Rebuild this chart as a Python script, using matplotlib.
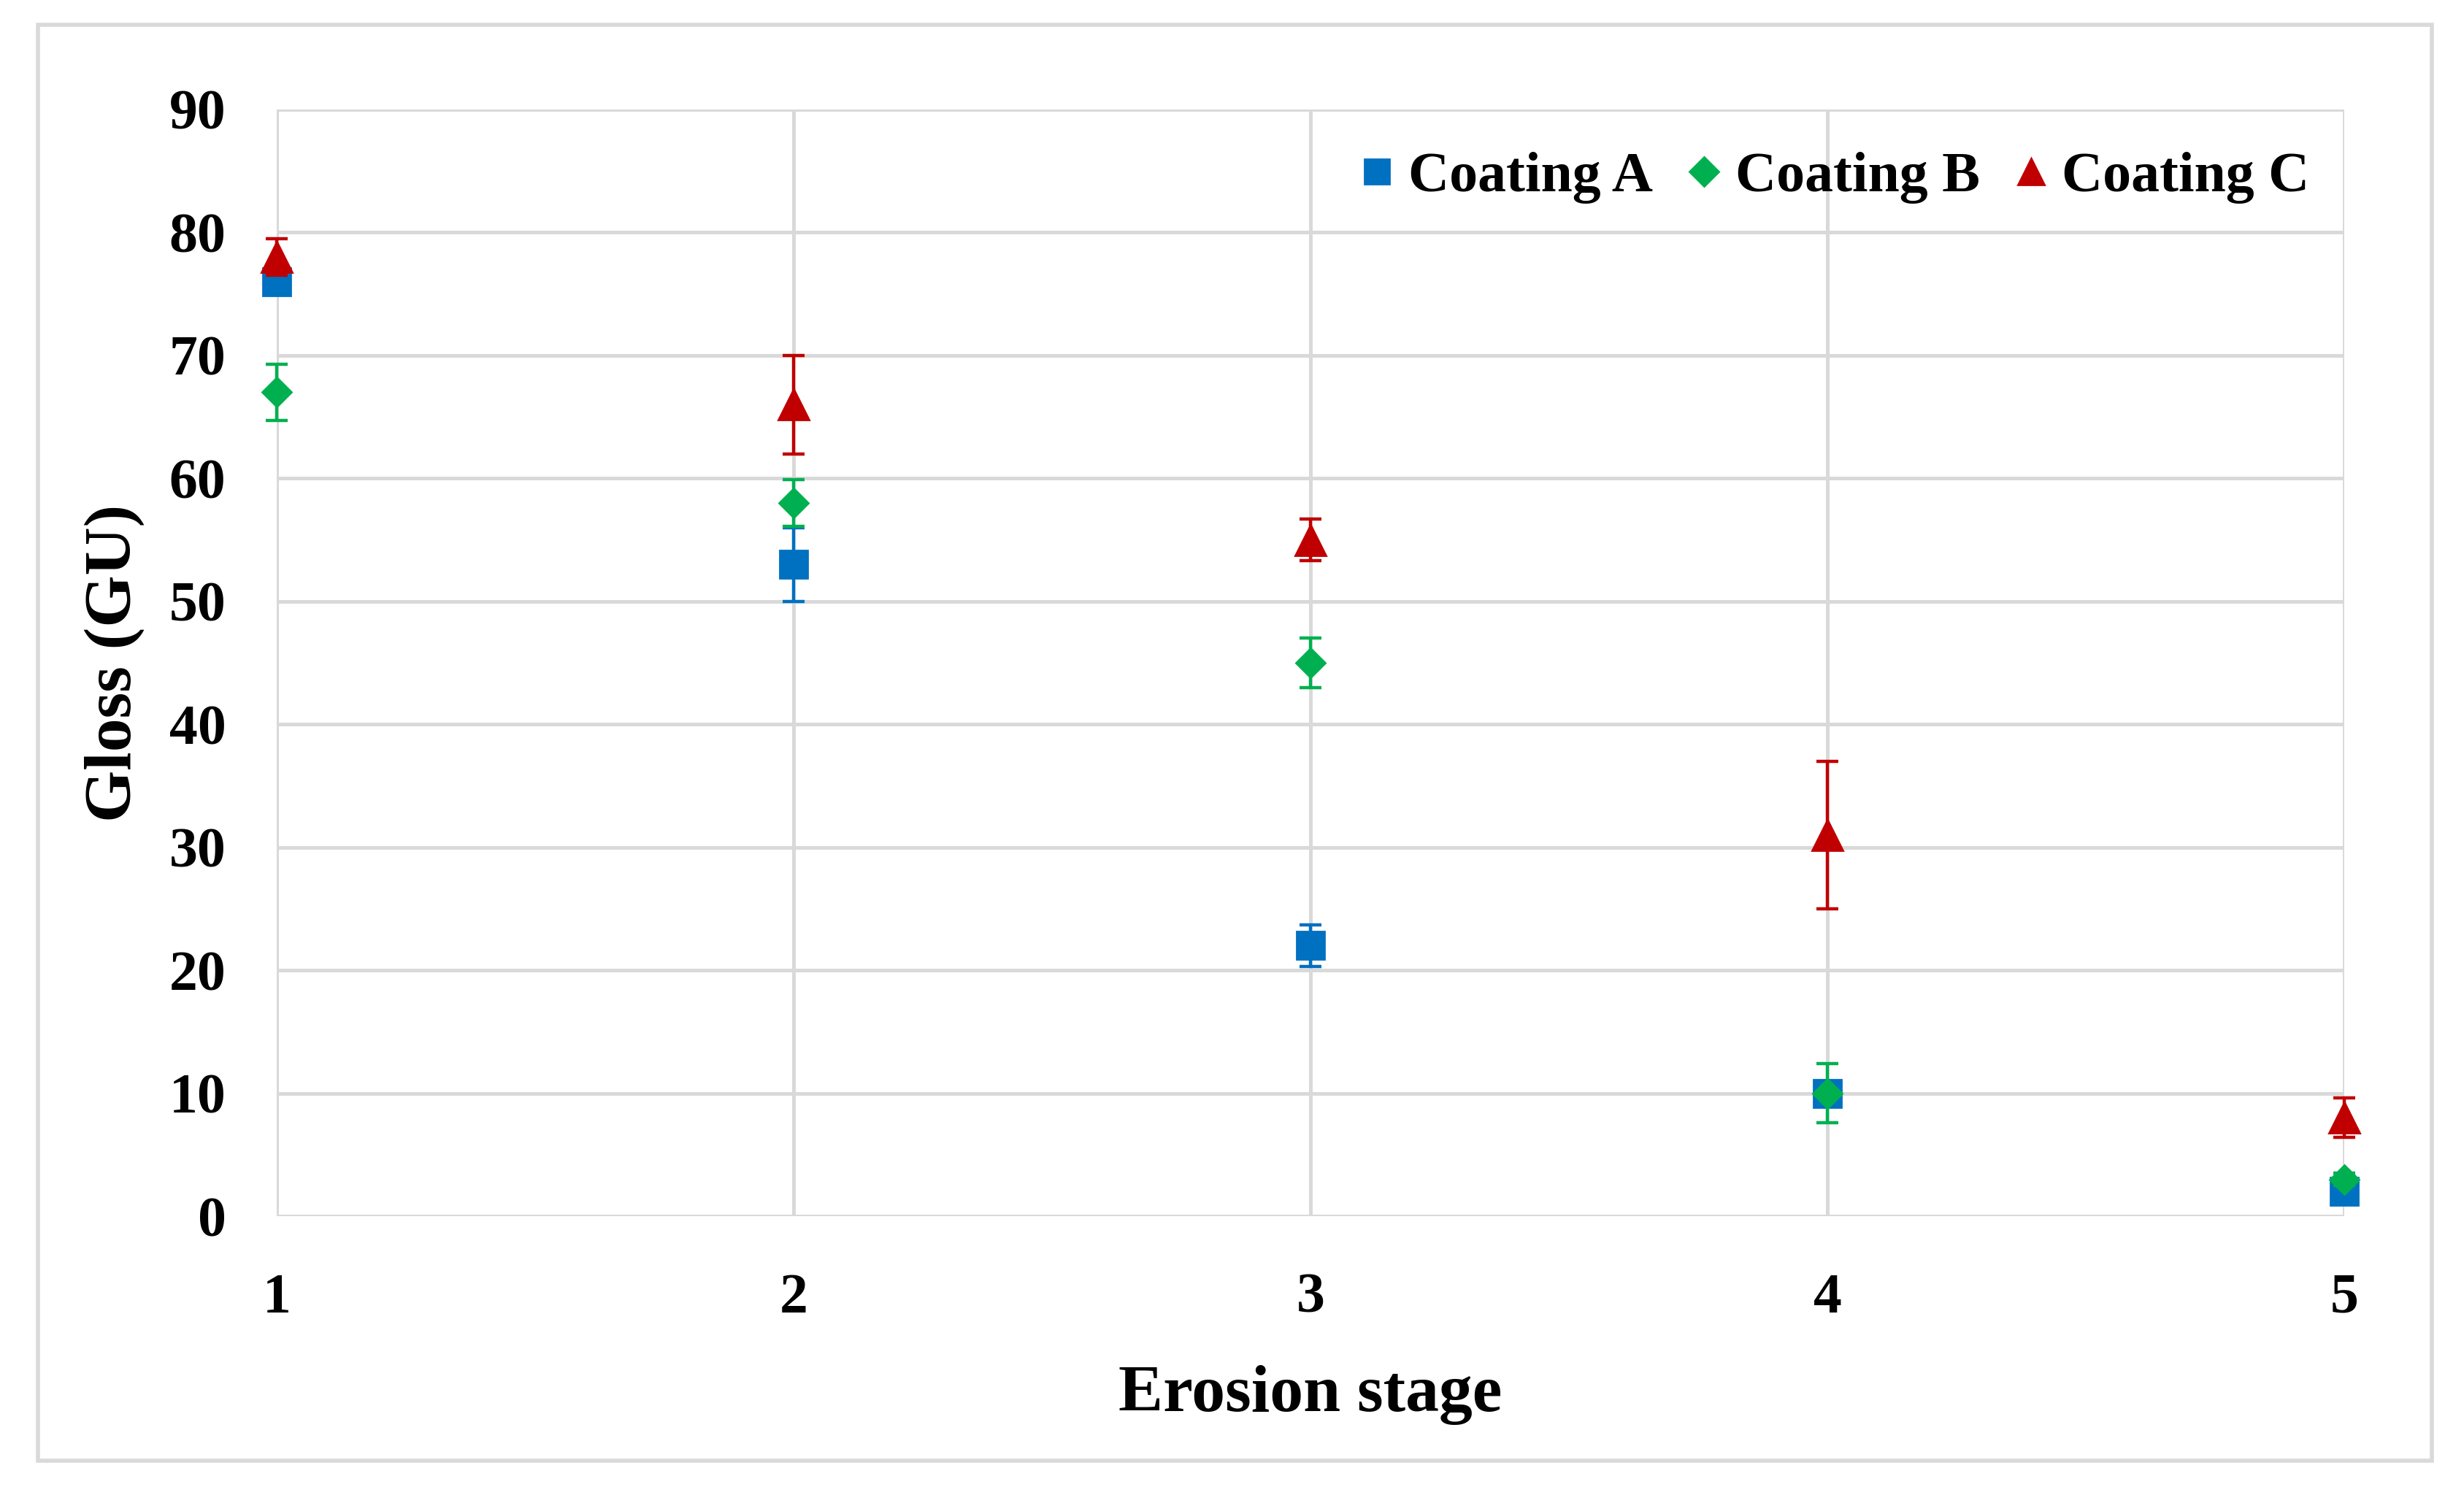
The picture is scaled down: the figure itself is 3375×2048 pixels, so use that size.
import matplotlib
matplotlib.use("Agg")
import matplotlib.pyplot as plt
from matplotlib.lines import Line2D
from matplotlib.patches import Rectangle

# Data
stages = [1, 2, 3, 4, 5]
coating_a = [76, 53, 22, 10, 2]
coating_a_err = [1.0, 3.0, 1.7, 1.0, 0.5]
coating_b = [67, 58, 45, 10, 3]
coating_b_err = [2.3, 1.9, 2.0, 2.4, 0.5]
coating_c = [78, 66, 55, 31, 8]
coating_c_err = [1.5, 4.0, 1.7, 6.0, 1.6]

labels = ["Coating A", "Coating B", "Coating C"]
colors = ["#0070C0", "#00B050", "#C00000"]
markers = ["s", "D", "^"]
msizes = [14, 10, 15]

plt.rcParams['font.family'] = ['Liberation Serif', 'DejaVu Serif']

fig = plt.figure(figsize=(16.875, 10.24), dpi=200)
ax = fig.add_axes([0.1123, 0.1865, 0.8391, 0.7403])

series = [(coating_a, coating_a_err), (coating_b, coating_b_err), (coating_c, coating_c_err)]
for i, (vals, errs) in enumerate(series):
    eb = ax.errorbar(stages, vals, yerr=errs, fmt=markers[i], color=colors[i],
                     markersize=msizes[i], ecolor=colors[i], elinewidth=1.6,
                     capsize=5.5, capthick=1.6, zorder=3 + i, clip_on=False)
    eb.lines[0].set_clip_on(False)

ax.set_xlim(1, 5)
ax.set_ylim(0, 90)
ax.set_xticks(stages)
ax.set_yticks(range(0, 91, 10))
ax.grid(True, color="#D9D9D9", linewidth=1.8, zorder=0)
ax.set_axisbelow(True)
for s in ax.spines.values():
    s.set_visible(False)
ax.tick_params(axis="both", length=0, labelsize=28)
ax.tick_params(axis="y", pad=25)
ax.tick_params(axis="x", pad=28)
for lbl in ax.get_xticklabels() + ax.get_yticklabels():
    lbl.set_fontweight("bold")

ax.set_xlabel("Erosion stage", fontsize=33, fontweight="bold", labelpad=20)
ax.set_ylabel("Gloss (GU)", fontsize=33, fontweight="bold", labelpad=12)

handles = [Line2D([], [], linestyle="none", marker=markers[i], color=colors[i],
                  markersize=[12, 10, 13][i]) for i in range(3)]
leg = ax.legend(handles, labels, ncol=3, loc="upper right", frameon=False,
                handlelength=0.6, handletextpad=0.25, columnspacing=0.6,
                bbox_to_anchor=(1.008, 1.008), prop={"weight": "bold", "size": 28})

# light border around the whole chart
fig.patches.append(Rectangle((0.0154, 0.0229), 0.9716, 0.9605, transform=fig.transFigure,
                             fill=False, edgecolor="#D9D9D9", linewidth=2))

fig.savefig("out.png", dpi=200)
